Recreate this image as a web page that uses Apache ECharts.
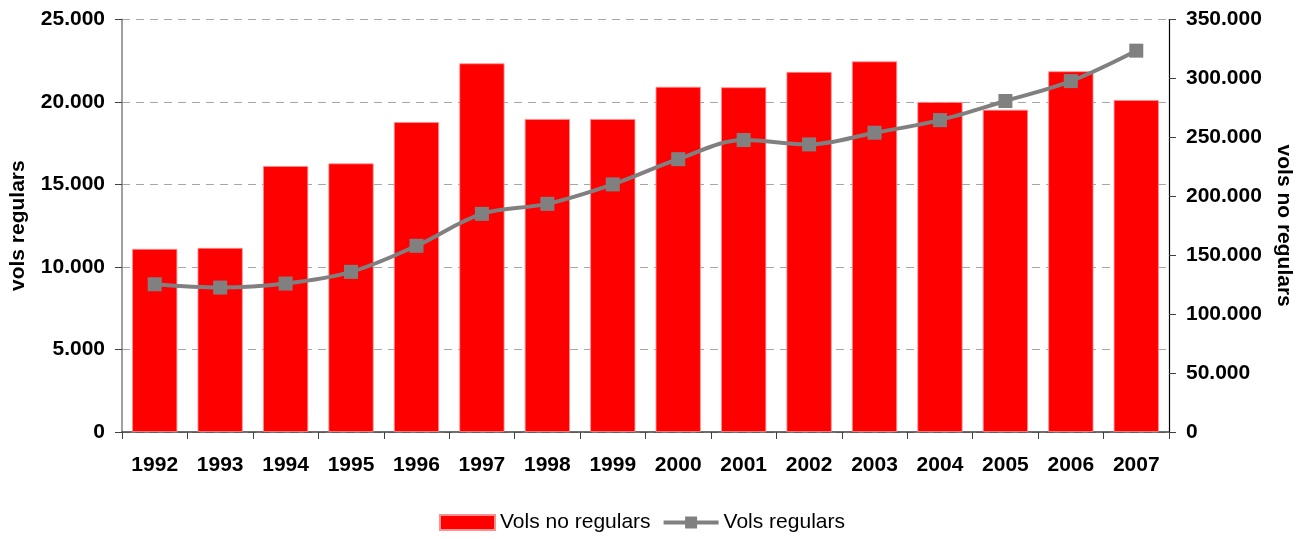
<!DOCTYPE html>
<html>
<head>
<meta charset="utf-8">
<script src="https://cdn.jsdelivr.net/npm/echarts@6/dist/echarts.min.js"></script>
<style>
  html, body { margin: 0; padding: 0; background: #fff; }
  #chart { width: 1304px; height: 539px; }
</style>
</head>
<body>
<div id="chart"></div>
<script>
// Annual flight counts, 1992-2007
const years = ['1992', '1993', '1994', '1995', '1996', '1997', '1998', '1999',
               '2000', '2001', '2002', '2003', '2004', '2005', '2006', '2007'];
const volsNoRegulars = [11090, 11150, 16110, 16270, 18770, 22330, 18960, 18960,
                        20910, 20880, 21810, 22450, 19990, 19520, 21850, 20110];
const volsRegulars = [125300, 122500, 125900, 135800, 157900, 185000, 193500, 210000,
                      231400, 247600, 243900, 253800, 264500, 280700, 297600, 323400];

const FONT = '"Liberation Sans", Arial, sans-serif';

// 25000 -> "25.000"
function fmtThousands(v) {
  return String(Math.round(v)).replace(/\B(?=(\d{3})+(?!\d))/g, '.');
}

const chart = echarts.init(document.getElementById('chart'), null, { renderer: 'canvas' });

chart.setOption({
  animation: false,
  backgroundColor: '#ffffff',
  textStyle: { fontFamily: FONT },
  grid: { left: 122, right: 135, top: 19.3, bottom: 107, containLabel: false },
  legend: {
    top: 507,
    left: 434,
    itemWidth: 55,
    itemHeight: 15,
    itemGap: 11,
    textStyle: { fontFamily: FONT, fontSize: 21, color: '#000' },
    data: [
      { name: 'Vols no regulars', icon: 'rect' },
      { name: 'Vols regulars', lineStyle: { width: 4, color: '#808080' } }
    ]
  },
  xAxis: {
    type: 'category',
    data: years,
    boundaryGap: true,
    axisLine: { lineStyle: { color: '#404040', width: 1.5 } },
    axisTick: { show: true, length: 7, lineStyle: { color: '#404040' } },
    axisLabel: { fontFamily: FONT, fontSize: 21, fontWeight: 'bold', color: '#000', margin: 23 }
  },
  yAxis: [
    {
      type: 'value',
      min: 0, max: 25000, interval: 5000,
      position: 'left',
      name: 'vols regulars',
      nameLocation: 'middle',
      nameGap: 93,
      nameTextStyle: { fontFamily: FONT, fontSize: 21, fontWeight: 'bold', color: '#000' },
      axisLine: { show: true, lineStyle: { color: '#808080', width: 1.5 } },
      axisTick: { show: true, length: 7, lineStyle: { color: '#404040' } },
      axisLabel: { fontFamily: FONT, fontSize: 21, fontWeight: 'bold', color: '#000', margin: 17,
                   formatter: fmtThousands },
      splitLine: { show: true, lineStyle: { color: '#a6a6a6', width: 1, type: [8, 6] } }
    },
    {
      type: 'value',
      min: 0, max: 350000, interval: 50000,
      position: 'right',
      name: 'vols no regulars',
      nameLocation: 'middle',
      nameRotate: -90,
      nameGap: 104,
      nameTextStyle: { fontFamily: FONT, fontSize: 21, fontWeight: 'bold', color: '#000' },
      axisLine: { show: true, lineStyle: { color: '#000', width: 1.2 } },
      axisTick: { show: true, inside: false, length: 7, lineStyle: { color: '#404040' } },
      axisLabel: { fontFamily: FONT, fontSize: 21, fontWeight: 'bold', color: '#000', margin: 17,
                   formatter: fmtThousands },
      splitLine: { show: false }
    }
  ],
  series: [
    {
      name: 'Vols no regulars',
      type: 'bar',
      yAxisIndex: 0,
      data: volsNoRegulars,
      barWidth: '69%',
      itemStyle: { color: '#ff0000', borderColor: '#ff9090', borderWidth: 0.8 }
    },
    {
      name: 'Vols regulars',
      type: 'line',
      yAxisIndex: 1,
      data: volsRegulars,
      smooth: 0.35,
      symbol: 'rect',
      symbolSize: 14,
      lineStyle: { color: '#808080', width: 4 },
      itemStyle: { color: '#808080' },
      z: 3
    }
  ]
});
</script>
</body>
</html>
